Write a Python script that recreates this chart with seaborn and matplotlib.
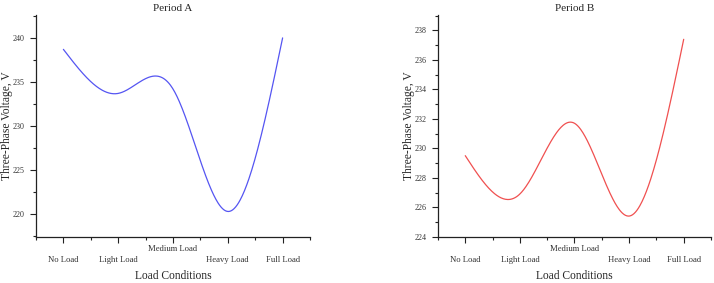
import numpy as np
import pandas as pd
import matplotlib
matplotlib.use("Agg")
import matplotlib.pyplot as plt
import matplotlib.transforms as mtransforms
from matplotlib.ticker import MultipleLocator, FixedLocator
import seaborn as sns

conditions = ["No Load", "Light Load", "Medium Load", "Heavy Load", "Full Load"]
period_a = [238.7, 233.7, 234.2, 220.3, 240.0]
period_b = [229.5, 226.9, 231.7, 225.4, 237.4]


def spline_curve(values, n=300):
    # natural cubic spline through the points (like Origin's spline line)
    y = np.asarray(values, float)
    k = len(y)
    A = np.zeros((k, k))
    b = np.zeros(k)
    A[0, 0] = A[-1, -1] = 1
    for i in range(1, k - 1):
        A[i, i - 1], A[i, i], A[i, i + 1] = 1, 4, 1
        b[i] = 6 * (y[i + 1] - 2 * y[i] + y[i - 1])
    M = np.linalg.solve(A, b)
    t = np.linspace(0, k - 1, n)
    i = np.clip(np.floor(t).astype(int), 0, k - 2)
    u = t - i
    s = (M[i] * (1 - u) ** 3 / 6 + M[i + 1] * u ** 3 / 6
         + (y[i] - M[i] / 6) * (1 - u) + (y[i + 1] - M[i + 1] / 6) * u)
    return pd.DataFrame({"x": t, "v": s})


sns.set_style("ticks")
plt.rcParams["font.family"] = ["Liberation Serif", "DejaVu Serif"]

fig = plt.figure(figsize=(7.14, 2.83), dpi=100)
ax1 = fig.add_axes([0.0504, 0.1625, 0.3838, 0.7845])
ax2 = fig.add_axes([0.6134, 0.1636, 0.3824, 0.7834])

panels = [
    (ax1, period_a, "#5555f2", "Period A", (217.4, 242.6), 5),
    (ax2, period_b, "#f05050", "Period B", (224.0, 239.05), 2),
]

for ax, vals, col, title, ylim, step in panels:
    sns.lineplot(data=spline_curve(vals), x="x", y="v", ax=ax, color=col, lw=0.9)
    ax.set_xlim(-0.5, 4.5)
    ax.set_ylim(*ylim)
    ax.yaxis.set_major_locator(MultipleLocator(step))
    ax.yaxis.set_minor_locator(MultipleLocator(step / 2))
    ax.set_xticks(range(len(conditions)))
    ax.set_xticklabels(conditions)
    ax.xaxis.set_minor_locator(FixedLocator([-0.5, 0.5, 1.5, 2.5, 3.5, 4.5]))
    sns.despine(ax=ax)
    for sp in ax.spines.values():
        sp.set_linewidth(0.9)
        sp.set_color("#222222")
    ax.tick_params(axis="both", which="major", length=4, width=0.8,
                   color="#222222", labelsize=6.2, labelcolor="#333333")
    ax.tick_params(axis="y", which="major", labelsize=5.8, pad=4)
    ax.tick_params(axis="both", which="minor", length=2, width=0.8,
                   color="#222222")
    ax.tick_params(axis="x", which="major", pad=10)
    # stagger: Medium Load label sits one row higher
    lab = ax.get_xticklabels()[2]
    lab.set_transform(lab.get_transform() +
                      mtransforms.ScaledTranslation(0, 11 / 100, fig.dpi_scale_trans))
    ax.set_xlabel("Load Conditions", fontsize=8.3, labelpad=4)
    ax.set_ylabel("Three-Phase Voltage, V", fontsize=8.3)
    ax.yaxis.set_label_coords(-0.085, 0.5)
    ax.set_title(title, fontsize=8, pad=3)

fig.savefig("out.png", dpi=100)
